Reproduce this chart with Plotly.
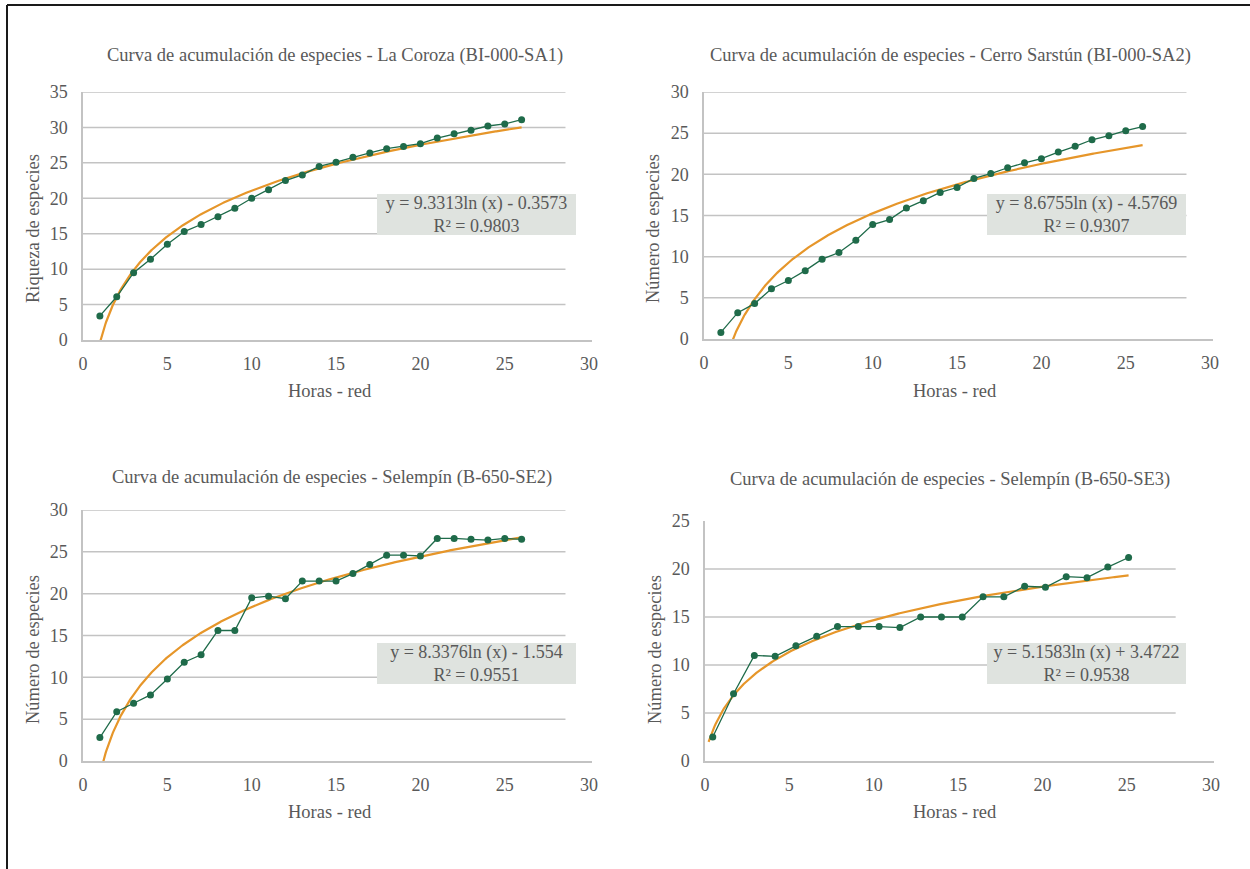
import numpy as np
import plotly.graph_objects as go

W, H = 1250, 869

# ---------------- data ----------------
hours_sa1 = list(range(1, 27))
species_sa1 = [3.4, 6.1, 9.5, 11.4, 13.5, 15.3, 16.3, 17.4, 18.6, 20.0, 21.2, 22.5, 23.3,
               24.5, 25.1, 25.8, 26.4, 27.0, 27.3, 27.7, 28.5, 29.1, 29.6, 30.2, 30.5, 31.1]

hours_sa2 = list(range(1, 27))
species_sa2 = [0.8, 3.2, 4.3, 6.1, 7.1, 8.3, 9.7, 10.5, 12.0, 13.9, 14.5, 15.9, 16.8,
               17.8, 18.4, 19.5, 20.1, 20.8, 21.4, 21.9, 22.7, 23.4, 24.2, 24.7, 25.3, 25.8]

hours_se2 = list(range(1, 27))
species_se2 = [2.8, 5.9, 6.9, 7.9, 9.8, 11.8, 12.7, 15.6, 15.6, 19.5, 19.7, 19.4, 21.5,
               21.5, 21.5, 22.4, 23.5, 24.6, 24.6, 24.5, 26.6, 26.6, 26.5, 26.4, 26.6, 26.5]

hours_se3 = list(range(1, 22))
species_se3 = [2.5, 7.0, 11.0, 10.9, 12.0, 13.0, 14.0, 14.0, 14.0, 13.9, 15.0, 15.0, 15.0,
               17.1, 17.1, 18.2, 18.1, 19.2, 19.1, 20.2, 21.2]

titles = ["Curva de acumulación de especies - La Coroza (BI-000-SA1)",
          "Curva de acumulación de especies - Cerro Sarstún (BI-000-SA2)",
          "Curva de acumulación de especies - Selempín (B-650-SE2)",
          "Curva de acumulación de especies - Selempín (B-650-SE3)"]
y_titles = ["Riqueza de especies", "Número de especies", "Número de especies", "Número de especies"]
x_title = "Horas - red"

trend_labels = ["y = 9.3313ln (x) - 0.3573", "y = 8.6755ln (x) - 4.5769",
                "y = 8.3376ln (x) - 1.554", "y = 5.1583ln (x) + 3.4722"]
r2_labels = ["R² = 0.9803", "R² = 0.9307", "R² = 0.9551", "R² = 0.9538"]

y_max = [35, 30, 30, 25]
x_ticks = [0, 5, 10, 15, 20, 25, 30]

# ---------------- style ----------------
FONT = "Liberation Serif"
TXT = "#595959"
GREEN = "#1f6b4a"
ORANGE = "#e6962a"
GRID = "#c3c3c3"
BOX = "#dfe3df"

def px(x):
    return x / W

def py(y):
    return 1 - y / H

U = 16.87  # pixels per hour unit
# (x-origin px, y-bottom px, y-top px)
panels = [(83, 340, 92), (704, 339, 92), (83, 761, 510), (705, 761, 521)]
XR = 30.2

datasets = [(hours_sa1, species_sa1), (hours_sa2, species_sa2),
            (hours_se2, species_se2), (hours_se3, species_se3)]

fig = go.Figure()
layout = {}
shapes = []
annotations = []

for i, (x0p, yb, yt) in enumerate(panels):
    n = i + 1
    sx = "" if n == 1 else str(n)
    xa, ya = "xaxis" + sx, "yaxis" + sx
    xref, yref = "x" + sx, "y" + sx
    layout[xa] = dict(domain=[px(x0p), px(x0p + XR * U)], range=[0, XR], anchor=yref,
                      tickvals=x_ticks, showgrid=False, zeroline=False, showline=True,
                      linecolor=GRID, linewidth=1.5, ticks="", ticklabelstandoff=7,
                      automargin=False,
                      tickfont=dict(family=FONT, size=18, color=TXT), fixedrange=True)
    layout[ya] = dict(domain=[py(yb), py(yt)], range=[0, y_max[i]], anchor=xref,
                      tickvals=list(range(0, y_max[i] + 1, 5)), showgrid=False,
                      zeroline=False, showline=True, linecolor=GRID, linewidth=1.5,
                      ticks="", ticklabelstandoff=10, automargin=False,
                      tickfont=dict(family=FONT, size=18, color=TXT), fixedrange=True)
    # horizontal gridlines (shorter than the axis, as in the reference)
    grid_end = 28.6 if n != 4 else 27.9
    for v in range(5, y_max[i] + 1, 5):
        if n == 4 and v == 25:
            continue
        shapes.append(dict(type="line", xref=xref, yref=yref, x0=0, x1=grid_end, y0=v, y1=v,
                           line=dict(color=GRID, width=1.5), layer="below"))

    hx, sp = datasets[i]
    if n == 4:
        # SE3 was drawn as a category-style series: its 21 samples are stretched over the axis
        layout["xaxis5"] = dict(overlaying="x4", domain=layout["xaxis4"]["domain"],
                                range=[0.627, 0.627 + XR / 1.2325], visible=False,
                                anchor="y4", fixedrange=True)
        txref = "x5"
        t = np.linspace(0.8, hx[-1], 300)
    else:
        txref = xref
        t = np.linspace(1.0, hx[-1], 600)
    # logarithmic trendline: least squares on ln(x), as the spreadsheet does
    slope, icpt = np.polyfit(np.log(np.asarray(hx, float)), np.asarray(sp, float), 1)
    trend = slope * np.log(t) + icpt
    fig.add_trace(go.Scatter(x=t, y=trend, mode="lines", xaxis=txref, yaxis=yref,
                             line=dict(color=ORANGE, width=2.2), hoverinfo="skip",
                             showlegend=False))
    fig.add_trace(go.Scatter(x=hx, y=sp, mode="lines+markers", xaxis=txref, yaxis=yref,
                             line=dict(color=GREEN, width=1.3),
                             marker=dict(color=GREEN, size=7), showlegend=False))

# titles, axis titles, equation boxes (pixel anchors)
title_pos = [(335, 55), (950, 55), (332, 478), (950, 479)]
ytitle_pos = [(33, 229), (653, 229), (33, 650), (655, 650)]
xtitle_pos = [(330, 391), (955, 391), (330, 812), (955, 812)]
box_pos = [(476.5, 214), (1086, 214), (476.5, 663), (1086, 663)]

for i in range(4):
    annotations.append(dict(text=titles[i], x=px(title_pos[i][0]), y=py(title_pos[i][1]),
                            xref="paper", yref="paper", showarrow=False,
                            xanchor="center", yanchor="middle",
                            font=dict(family=FONT, size=18.5, color=TXT)))
    annotations.append(dict(text=y_titles[i], x=px(ytitle_pos[i][0]), y=py(ytitle_pos[i][1]),
                            xref="paper", yref="paper", showarrow=False, textangle=-90,
                            xanchor="center", yanchor="middle",
                            font=dict(family=FONT, size=18.5, color=TXT)))
    annotations.append(dict(text=x_title, x=px(xtitle_pos[i][0]), y=py(xtitle_pos[i][1]),
                            xref="paper", yref="paper", showarrow=False,
                            xanchor="center", yanchor="middle",
                            font=dict(family=FONT, size=18.5, color=TXT)))
    annotations.append(dict(text=trend_labels[i] + "<br>" + r2_labels[i],
                            x=px(box_pos[i][0]), y=py(box_pos[i][1]),
                            xref="paper", yref="paper", showarrow=False,
                            xanchor="center", yanchor="middle", width=199, height=41,
                            bgcolor=BOX, borderpad=0, borderwidth=0, align="center",
                            font=dict(family=FONT, size=18, color=TXT)))

# outer frame (left and top edges)
shapes.append(dict(type="line", xref="paper", yref="paper", x0=px(7), x1=px(7),
                   y0=py(5), y1=0, line=dict(color="#1a1a1a", width=2)))
shapes.append(dict(type="line", xref="paper", yref="paper", x0=px(7), x1=1,
                   y0=py(5), y1=py(5), line=dict(color="#1a1a1a", width=2)))

fig.update_layout(width=W, height=H, margin=dict(l=0, r=0, t=0, b=0, autoexpand=False),
                  paper_bgcolor="white", plot_bgcolor="white",
                  shapes=shapes, annotations=annotations, showlegend=False, **layout)

fig.write_html("out.html", config={"displayModeBar": False},
               post_script="document.body.style.margin='0px';document.body.style.overflow='hidden';")
